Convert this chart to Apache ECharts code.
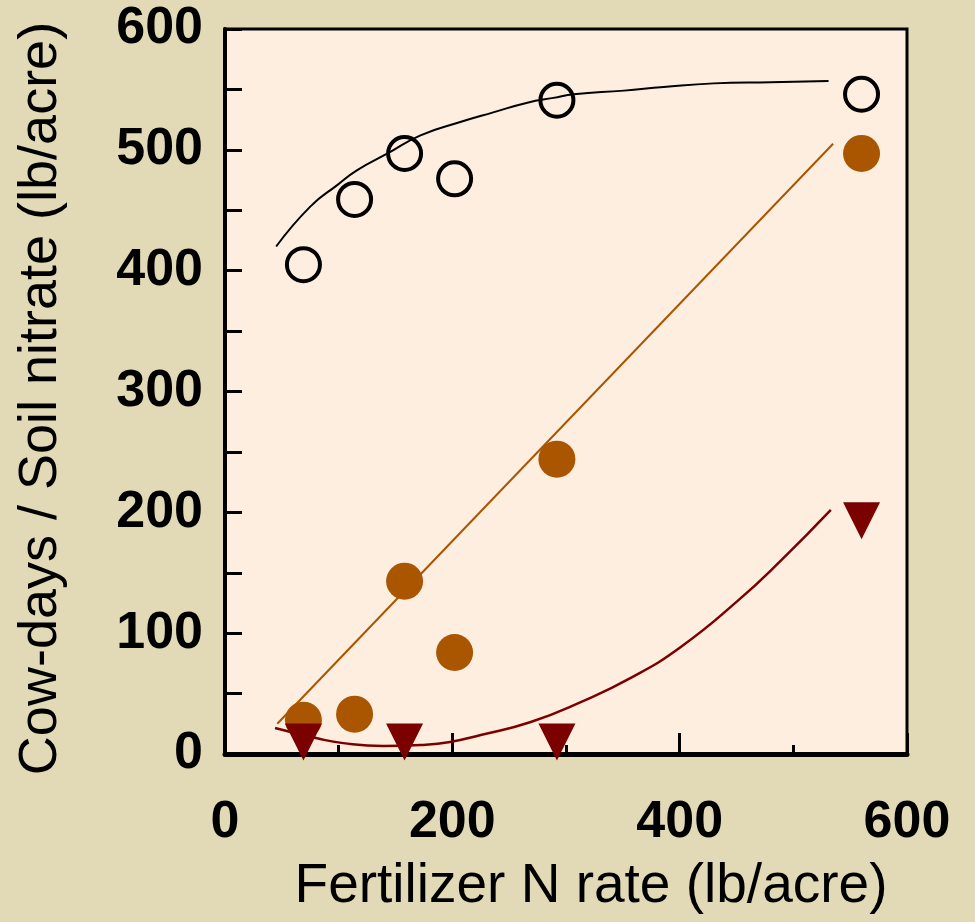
<!DOCTYPE html>
<html>
<head>
<meta charset="utf-8">
<script src="https://cdn.jsdelivr.net/npm/echarts@6/dist/echarts.min.js"></script>
<style>
html,body{margin:0;padding:0;background:#e2dab6;}
#chart{width:975px;height:922px;}
</style>
</head>
<body>
<div id="chart"></div>
<script>
// Fertilizer N rates (lb/acre) for the observed points
var nRates = [69, 114, 158, 202, 292, 560];
// Open circles (cow-days)
var cowDays = [405, 459, 497, 476, 541, 546];
// Filled brown circles (soil nitrate, series 1)
var nitrateA = [28, 33, 143, 84, 244, 497];
// Dark red triangles (soil nitrate, series 2)
var nitrateBX = [69, 158, 292, 560];
var nitrateBY = [10, 10, 10, 193];

// Fitted curves
var cowFitX = [45, 75, 99, 116, 143, 172, 207, 236, 266, 289, 307, 351, 386, 430, 480, 531];
var cowFitY = [420, 453, 471, 483, 497, 512, 523, 531, 539, 543, 546, 549, 552, 555, 556, 557];
var nitAFitX = [46, 535];
var nitAFitY = [25, 505];
var nitBFitX = [44, 81, 104, 139, 172, 198, 225, 269, 313, 357, 401, 451, 489, 533];
var nitBFitY = [21.5, 13, 9, 6.6, 7.5, 10, 15.7, 26.5, 43, 63, 88.6, 126.7, 160, 202];

var xTicks = [0, 200, 400, 600];
var yTicks = [0, 100, 200, 300, 400, 500, 600];

function pairs(xs, ys) { return xs.map(function (x, i) { return [x, ys[i]]; }); }

var chart = echarts.init(document.getElementById('chart'));
var labelFont = 'Liberation Sans, Arial, sans-serif';
chart.setOption({
  backgroundColor: '#e2dab6',
  animation: false,
  grid: {
    left: 225, right: 68, top: 29, bottom: 168,
    show: true, backgroundColor: '#fdeedf', borderColor: '#000', borderWidth: 3
  },
  xAxis: {
    type: 'value', min: xTicks[0], max: xTicks[xTicks.length - 1], interval: 200,
    name: 'Fertilizer N rate (lb/acre)',
    nameLocation: 'middle', nameGap: 105,
    nameTextStyle: { fontFamily: labelFont, fontSize: 55, color: '#000', padding: [0, 0, 0, 50] },
    axisLine: { show: true, lineStyle: { color: '#000', width: 5 } },
    axisTick: { show: true, inside: true, length: 21, lineStyle: { color: '#000', width: 3 } },
    minorTick: { show: true, splitNumber: 2, length: 9, lineStyle: { color: '#000', width: 3 } },
    splitLine: { show: false },
    axisLabel: { margin: 43, fontFamily: labelFont, fontWeight: 'bold', fontSize: 52, color: '#000' }
  },
  yAxis: {
    type: 'value', min: yTicks[0], max: yTicks[yTicks.length - 1], interval: 100,
    name: 'Cow-days / Soil nitrate (lb/acre)',
    nameLocation: 'middle', nameGap: 157,
    nameTextStyle: { fontFamily: labelFont, fontSize: 54, color: '#000', padding: [0, 14, 0, 0] },
    axisLine: { show: true, lineStyle: { color: '#000', width: 4 } },
    axisTick: { show: true, inside: true, length: 17, lineStyle: { color: '#000', width: 3 } },
    minorTick: { show: true, splitNumber: 2, length: 17, lineStyle: { color: '#000', width: 3 } },
    splitLine: { show: false },
    axisLabel: { margin: 22, fontFamily: labelFont, fontWeight: 'bold', fontSize: 52, color: '#000' }
  },
  series: [
    { type: 'line', data: pairs(cowFitX, cowFitY), smooth: true, showSymbol: false,
      lineStyle: { color: '#000', width: 2 }, z: 2 },
    { type: 'line', data: pairs(nitAFitX, nitAFitY), showSymbol: false,
      lineStyle: { color: '#aa5500', width: 2 }, z: 2 },
    { type: 'line', data: pairs(nitBFitX, nitBFitY), smooth: true, showSymbol: false,
      lineStyle: { color: '#7b0000', width: 2.5 }, z: 2 },
    { type: 'scatter', data: pairs(nRates, cowDays), symbol: 'circle', symbolSize: 33,
      itemStyle: { color: 'rgba(0,0,0,0)', borderColor: '#000', borderWidth: 4, opacity: 1 }, z: 3 },
    { type: 'scatter', data: pairs(nRates, nitrateA), symbol: 'circle', symbolSize: 37,
      itemStyle: { color: '#aa5500', opacity: 1 }, z: 4 },
    { type: 'scatter', data: pairs(nitrateBX, nitrateBY), symbol: 'triangle', symbolRotate: 180,
      symbolSize: [37, 37], itemStyle: { color: '#7b0000', opacity: 1 }, z: 5 }
  ]
});
</script>
</body>
</html>
